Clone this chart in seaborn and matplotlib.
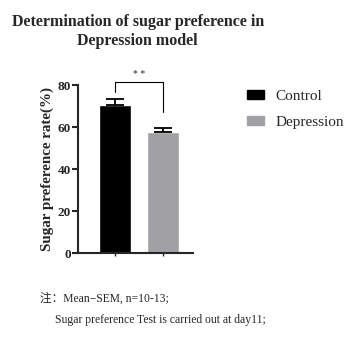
import seaborn as sns
import matplotlib.pyplot as plt
import pandas as pd
from matplotlib.patches import Patch

groups = ["Control", "Depression"]
means = [70.5, 57.6]
sems = [2.7, 2.0]
colors = ["#000000", "#a1a1a5"]
yticks = [0, 20, 40, 60, 80]

df = pd.DataFrame({"group": groups, "rate": means})

sns.set_style("ticks")
plt.rcParams['font.family'] = ['Liberation Serif', 'Noto Sans CJK SC']

fig = plt.figure(figsize=(3.53, 3.56), dpi=100)
ax = fig.add_axes([0.221, 0.289, 0.326, 0.472])

sns.barplot(data=df, x="group", y="rate", hue="group", palette=colors,
            width=0.67, errorbar=None, legend=False, ax=ax)
# upper half error bars only
ax.errorbar(range(len(groups)), means, yerr=[[0] * len(sems), sems], fmt="none",
            ecolor="black", elinewidth=1.3, capsize=6.5, capthick=1.3)

ax.set_ylim(0, 80)
ax.set_xlim(-0.77, 1.625)
ax.set_yticks(yticks)
ax.set_yticklabels([str(t) for t in yticks], fontweight="bold", fontsize=9.5)
ax.set_xticks(range(len(groups)))
ax.set_xticklabels([])
ax.tick_params(axis="x", length=2, width=1)
ax.tick_params(axis="y", length=4, width=1.5, pad=1)
ax.set_xlabel("")
ax.set_ylabel("Sugar preference rate(%)", fontweight="bold", fontsize=10.8, labelpad=3)
for s in ["left", "bottom"]:
    ax.spines[s].set_linewidth(1.5)
sns.despine(ax=ax)

# significance bracket
ax.plot([0, 0, 1, 1], [76.7, 81.5, 81.5, 67], color="black", lw=0.8, clip_on=False)
ax.text(0.5, 82.8, "* *", ha="center", va="bottom", fontsize=7)

fig.text(0.39, 0.912, "Determination of sugar preference in\nDepression model",
         ha="center", va="center", fontsize=11.5, fontweight="bold", linespacing=1.2)

handles = [Patch(color=c) for c in colors]
fig.legend(handles, groups, loc="upper left", bbox_to_anchor=(0.662, 0.785),
           frameon=False, fontsize=11, handlelength=1.1, handleheight=0.55,
           labelspacing=0.8, handletextpad=0.75)

fig.text(0.113, 0.16, "注：Mean−SEM, n=10-13;", fontsize=8.4, va="center")
fig.text(0.155, 0.10, "Sugar preference Test is carried out at day11;", fontsize=8.4, va="center")

fig.savefig("out.png", dpi=100)
